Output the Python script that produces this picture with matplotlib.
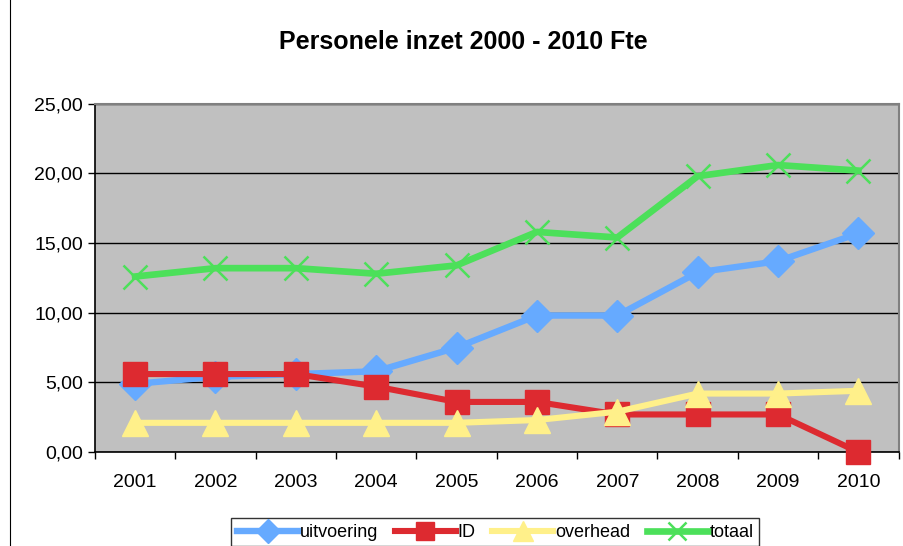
import matplotlib
matplotlib.use('Agg')
import matplotlib.pyplot as plt
from matplotlib.patches import Rectangle

plt.rcParams['font.family'] = ['Liberation Sans', 'DejaVu Sans']

years = ['2001', '2002', '2003', '2004', '2005', '2006', '2007', '2008', '2009', '2010']
uitvoering = [4.9, 5.4, 5.6, 5.8, 7.5, 9.8, 9.8, 12.9, 13.7, 15.7]
id_fte = [5.6, 5.6, 5.6, 4.7, 3.6, 3.6, 2.7, 2.7, 2.7, 0.0]
overhead = [2.1, 2.1, 2.1, 2.1, 2.1, 2.3, 2.9, 4.2, 4.2, 4.4]
totaal = [12.6, 13.2, 13.2, 12.8, 13.4, 15.8, 15.4, 19.8, 20.6, 20.2]

fig = plt.figure(figsize=(9.04, 5.46), dpi=100)
ax = fig.add_axes([0.105, 0.172, 0.889, 0.638])
ax.set_facecolor('#C0C0C0')

# outer chart border
fig.patches.append(Rectangle((10 / 904, -0.01), 1.0, 1.02, transform=fig.transFigure,
                             fill=False, edgecolor='black', linewidth=0.8))

x = list(range(len(years)))
ax.plot(x, uitvoering, color='#66AAFF', lw=4.6, marker='D', ms=16,
        mec='#66AAFF', label='uitvoering', clip_on=False, zorder=3)
ax.plot(x, id_fte, color='#DD2A30', lw=4.4, marker='s', ms=17,
        mec='#DD2A30', label='ID', clip_on=False, zorder=4)
ax.plot(x, overhead, color='#FFF08A', lw=4.4, marker='^', ms=19,
        mec='#FFF08A', label='overhead', clip_on=False, zorder=5)
ax.plot(x, totaal, color='#4CE05A', lw=4.8, marker='x', ms=17, mew=1.8,
        label='totaal', clip_on=False, zorder=3)

ax.set_xlim(-0.5, len(years) - 0.5)
ax.set_ylim(0, 25)
ax.set_yticks([0, 5, 10, 15, 20, 25])
ax.yaxis.set_major_formatter(plt.FuncFormatter(lambda v, p: ('%.2f' % v).replace('.', ',')))
ax.set_xticks([i - 0.5 for i in range(len(years) + 1)])
ax.set_xticklabels([])
ax.set_xticks(x, minor=True)
ax.set_xticklabels(years, minor=True)
ax.tick_params(axis='x', which='minor', length=0, labelsize=14, pad=16)
ax.tick_params(axis='x', which='major', length=5, direction='out', width=1)
ax.tick_params(axis='y', labelsize=14, length=5, width=1)
ax.grid(axis='y', color='black', lw=1)
ax.set_axisbelow(True)
for side in ['left', 'bottom']:
    ax.spines[side].set_color('black')
    ax.spines[side].set_linewidth(1.2)
for side in ['top', 'right']:
    ax.spines[side].set_color('#808080')
    ax.spines[side].set_linewidth(1.5)

fig.suptitle('Personele inzet 2000 - 2010 Fte', x=0.512, y=0.945, fontsize=18,
             fontweight='bold')

leg = fig.legend(loc='center', bbox_to_anchor=(0.548, 0.025), ncol=4, fontsize=13,
                 frameon=True, fancybox=False, edgecolor='black', handlelength=3.4,
                 handletextpad=0.1, columnspacing=0.9, borderpad=0.3, markerscale=0.75)
leg.get_frame().set_linewidth(1.0)

fig.savefig('out.png', dpi=100, facecolor='white')
